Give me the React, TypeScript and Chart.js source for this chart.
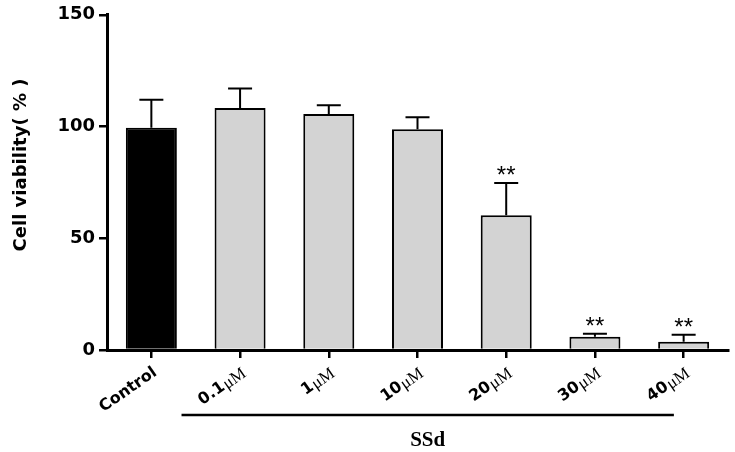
import React, { useEffect, useRef } from "react";
import { Chart, registerables } from "chart.js";

Chart.register(...registerables);

const categories = ["Control", "0.1μM", "1μM", "10μM", "20μM", "30μM", "40μM"];
const means = [99.4, 108.3, 105.6, 98.8, 60.3, 5.9, 3.7];
const sds = [12.6, 8.7, 3.9, 5.4, 14.4, 1.4, 3.1];
const significance = ["", "", "", "", "**", "**", "**"];
const barColors = ["#000000", "#d3d3d3", "#d3d3d3", "#d3d3d3", "#d3d3d3", "#d3d3d3", "#d3d3d3"];
const yMin = 0;
const yMax = 150;
const yStep = 50;
const yTitle = "Cell viability( % )";
const groupLabel = "SSd";
const groupFirst = 1;
const groupLast = 6;

const SANS = "'DejaVu Sans', sans-serif";
const SERIF = "'Liberation Serif', 'Times New Roman', serif";

const overlay = {
  id: "overlay",
  afterDatasetsDraw(chart: any) {
    const ctx = chart.ctx;
    const meta = chart.getDatasetMeta(0);
    const y = chart.scales.y;
    ctx.save();
    ctx.strokeStyle = "#000";
    ctx.fillStyle = "#000";
    ctx.lineWidth = 2;
    meta.data.forEach((bar: any, i: number) => {
      const x = bar.x;
      const top = y.getPixelForValue(means[i]);
      const cap = y.getPixelForValue(means[i] + sds[i]);
      ctx.beginPath();
      ctx.moveTo(x, top);
      ctx.lineTo(x, cap);
      ctx.moveTo(x - 12, cap);
      ctx.lineTo(x + 12, cap);
      ctx.stroke();
      if (significance[i]) {
        ctx.font = "24px 'Liberation Sans', Arial, sans-serif";
        ctx.textAlign = "center";
        ctx.textBaseline = "alphabetic";
        ctx.fillText(significance[i], x, cap);
      }
    });
    ctx.restore();
  },
  afterDraw(chart: any) {
    const ctx = chart.ctx;
    const xs = chart.scales.x;
    const area = chart.chartArea;
    const labels: string[] = chart.data.labels;
    ctx.save();
    ctx.fillStyle = "#000";
    ctx.strokeStyle = "#000";
    // x labels
    labels.forEach((lab, i) => {
      const tx = xs.getPixelForValue(i);
      ctx.save();
      ctx.translate(tx + 4, area.bottom + 21);
      ctx.rotate(-35 * Math.PI / 180);
      ctx.textBaseline = "middle";
      ctx.textAlign = "right";
      if (lab.endsWith("μM")) {
        const num = lab.slice(0, -2);
        ctx.font = "17px " + SERIF;
        const w = ctx.measureText("μM").width;
        ctx.fillText("μM", 0, 1);
        ctx.font = "bold 16px " + SANS;
        ctx.fillText(num, -w - 1, 0);
      } else {
        ctx.font = "bold 16px " + SANS;
        ctx.fillText(lab, 0, 0);
      }
      ctx.restore();
    });
    // group line
    const step = xs.getPixelForValue(1) - xs.getPixelForValue(0);
    const x1 = xs.getPixelForValue(groupFirst) - 0.66 * step;
    const x2 = xs.getPixelForValue(groupLast) - 0.11 * step;
    ctx.lineWidth = 2.5;
    ctx.beginPath();
    ctx.moveTo(x1, area.bottom + 65);
    ctx.lineTo(x2, area.bottom + 65);
    ctx.stroke();
    ctx.font = "bold 21px " + SERIF;
    ctx.textAlign = "center";
    ctx.textBaseline = "alphabetic";
    ctx.fillText(groupLabel, (x1 + x2) / 2, area.bottom + 96);
    // y title
    ctx.save();
    ctx.translate(26, 165);
    ctx.rotate(-Math.PI / 2);
    ctx.font = "bold 18px " + SANS;
    ctx.textAlign = "center";
    ctx.textBaseline = "alphabetic";
    ctx.fillText(yTitle, 0, 0);
    ctx.restore();
    ctx.restore();
  },
};

export default function App() {
  const ref = useRef<HTMLCanvasElement | null>(null);
  useEffect(() => {
    if (!ref.current) return;
    const chart = new Chart(ref.current, {
      type: "bar",
      data: {
        labels: categories,
        datasets: [
          {
            data: means,
            backgroundColor: barColors,
            borderColor: "#000",
            borderWidth: 2,
            barPercentage: 0.575,
            categoryPercentage: 1,
          },
        ],
      },
      options: {
        responsive: false,
        animation: false,
        layout: { padding: { top: 14, right: 7, bottom: 0, left: 0 } },
        plugins: { legend: { display: false }, tooltip: { enabled: false } },
        scales: {
          x: {
            offset: true,
            grid: {
              display: true,
              drawOnChartArea: false,
              drawTicks: true,
              tickLength: 8,
              color: "#000",
              lineWidth: 2.5,
              offset: false,
            },
            border: { display: true, color: "#000", width: 3 },
            ticks: { callback: () => "" },
            afterFit: (s: any) => {
              s.height = 102;
            },
          },
          y: {
            min: yMin,
            max: yMax,
            ticks: {
              stepSize: yStep,
              color: "#000",
              padding: 4,
              font: { family: "'DejaVu Sans', sans-serif", weight: "bold", size: 18 },
            },
            grid: {
              display: true,
              drawOnChartArea: false,
              drawTicks: true,
              tickLength: 8,
              color: "#000",
              lineWidth: 2.5,
            },
            border: { display: true, color: "#000", width: 3 },
            afterFit: (s: any) => {
              s.width = 107;
            },
          },
        },
      } as any,
      plugins: [overlay],
    });
    return () => chart.destroy();
  }, []);
  return (
    <div style={{ position: "fixed", left: 0, top: 0, width: 735, height: 452, background: "#fff" }}>
      <canvas ref={ref} width={735} height={452} style={{ display: "block" }} />
    </div>
  );
}
